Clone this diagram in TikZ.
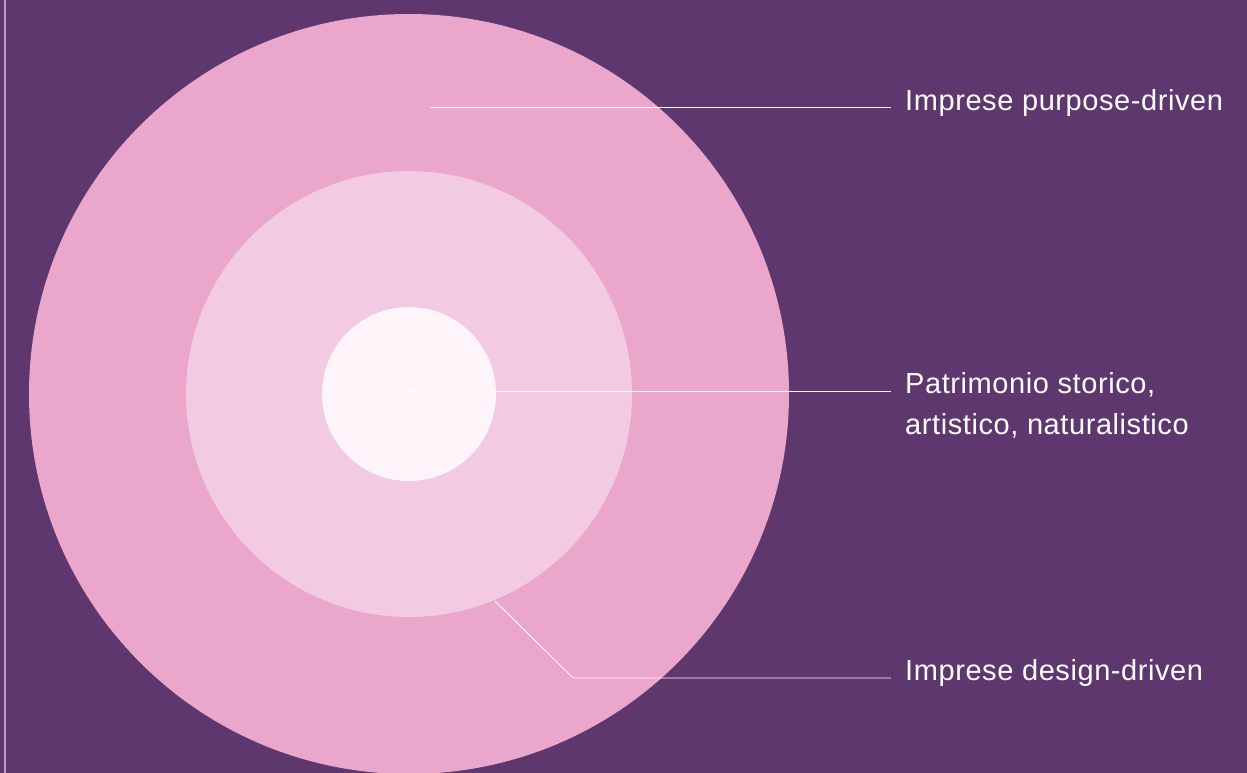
\documentclass[tikz,border=0pt]{standalone}
\usepackage{fontspec}
\setmainfont{Liberation Sans}[LetterSpace=2]
\usetikzlibrary{positioning}
\definecolor{bgpurple}{HTML}{5E376E}
\definecolor{outerpink}{HTML}{EBA6CB}
\definecolor{midpink}{HTML}{F2CBE3}
\definecolor{innerpink}{HTML}{FDF5FA}
\definecolor{sideline}{HTML}{B9A3C4}
\tikzset{
  leader/.style={draw=white, line width=0.9pt},
  tag/.style={text=white, inner sep=0pt, anchor=base west, align=left,
    font=\fontsize{29}{41}\selectfont}
}
\begin{document}
\begin{tikzpicture}[x=1pt,y=-1pt]
     \fill [bgpurple] (0,0) rectangle (1247,773);
     \useasboundingbox (0,0) rectangle (1247,773);
     \draw[sideline, line width=1.2pt] (5,0) -- (5,773);

     % circles
     \fill [outerpink] (409,394) circle (380pt);
     \fill [midpink] (409,394) circle (223pt);
     \fill [innerpink] (409,394) circle (87pt);

     % leader end points
     \coordinate (s1) at (430,107);
     \coordinate (e1) at (891,107);
     \coordinate (s2) at (409,391);
     \coordinate (e2) at (891,391);
     \coordinate (s3) at (495,601);
     \coordinate (k3) at (573,678);
     \coordinate (e3) at (891,678);

     \node[tag] (purpose) at (905,111) {Imprese purpose-driven};
     \node[tag] (heritage) at (905,434) {Patrimonio storico,\\artistico, naturalistico};
     \node[tag] (design) at (905,680) {Imprese design-driven};

     \draw[leader] (s1) -- (e1);
     \draw[leader] (s2) -- (e2);
     \draw[leader] (s3) -- (k3) -- (e3);
   \end{tikzpicture}
\end{document}
